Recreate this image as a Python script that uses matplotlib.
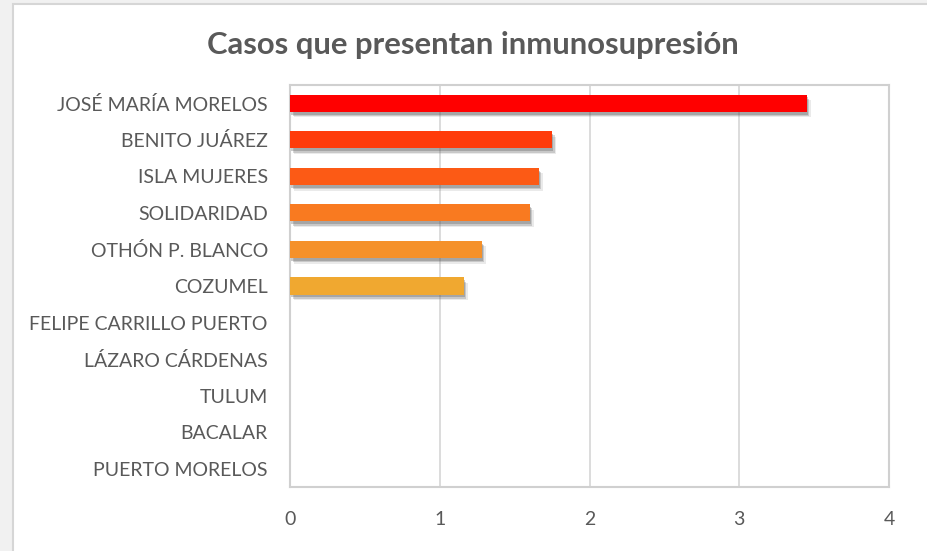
import matplotlib.pyplot as plt
import matplotlib.patheffects as pe
from matplotlib.patches import Rectangle

# data
municipios = ["JOSÉ MARÍA MORELOS", "BENITO JUÁREZ", "ISLA MUJERES", "SOLIDARIDAD",
              "OTHÓN P. BLANCO", "COZUMEL", "FELIPE CARRILLO PUERTO",
              "LÁZARO CÁRDENAS", "TULUM", "BACALAR", "PUERTO MORELOS"]
casos = [3.45, 1.75, 1.66, 1.60, 1.28, 1.16, 0, 0, 0, 0, 0]
colores = ["#ff0000", "#ff3b0a", "#fc5a15", "#f97a20", "#f5912a", "#f0a830",
           "#f0a830", "#f0a830", "#f0a830", "#f0a830", "#f0a830"]
xticks = [0, 1, 2, 3, 4]

plt.rcParams['font.family'] = ['Lato', 'DejaVu Sans']
gris = '#595959'

fig = plt.figure(figsize=(9.28, 5.51), dpi=100)
fig.patch.set_facecolor('#f1f1f1')
# white chart area with light border
fig.patches.append(Rectangle((13 / 928, -0.01), 1.0, 1 - 4 / 551 + 0.01,
                             transform=fig.transFigure, facecolor='white',
                             edgecolor='#d6d6d6', linewidth=1.5, zorder=-5))

ax = fig.add_axes([290 / 928, 1 - 487 / 551, (889 - 290) / 928, (487 - 85) / 551])
ax.set_zorder(2)
ax.set_facecolor('white')

y = list(range(len(municipios)))
bars = ax.barh(y, casos, height=0.47, color=colores, zorder=3)
# soft drop shadow like the original
sombra = [pe.withSimplePatchShadow(offset=(3, -4), shadow_rgbFace='#777777', alpha=0.15),
          pe.withSimplePatchShadow(offset=(2, -3), shadow_rgbFace='#666666', alpha=0.25),
          pe.withSimplePatchShadow(offset=(1, -2), shadow_rgbFace='#555555', alpha=0.3),
          pe.Normal()]
for b in bars:
    if b.get_width() > 0:
        b.set_path_effects(sombra)

ax.set_xlim(0, 4)
ax.set_ylim(len(municipios) - 0.5, -0.5)
ax.set_xticks(xticks)
ax.set_yticks(y)
ax.set_yticklabels(municipios)
ax.tick_params(axis='both', length=0, colors=gris, labelsize=14)
ax.tick_params(axis='x', pad=17)
ax.tick_params(axis='y', pad=16)
ax.grid(axis='x', color='#d9d9d9', linewidth=1.3, zorder=0)
for s in ax.spines.values():
    s.set_color('#d0d0d0')
    s.set_linewidth(1.5)

fig.text(473 / 928, 1 - 45 / 551, "Casos que presentan inmunosupresión",
         ha='center', va='center', fontsize=22.3, fontweight='bold', color=gris)

fig.savefig('out.png', dpi=100, facecolor=fig.get_facecolor())
